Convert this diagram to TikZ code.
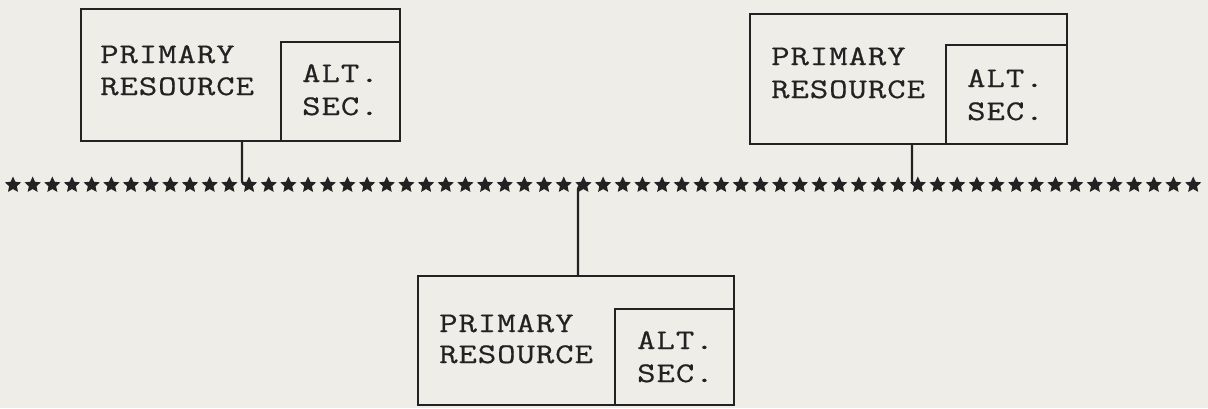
\documentclass[tikz,border=0pt]{standalone}
\usepackage{fontspec}
\usetikzlibrary{shapes.geometric}
\newfontfamily\tw[FakeStretch=1.25,LetterSpace=3.5,FakeBold=0.6]{Latin Modern Mono}
\definecolor{paper}{RGB}{238,237,231}
\definecolor{inkc}{RGB}{34,34,34}
\begin{document}
\begin{tikzpicture}[x=1pt,y=-1pt,
  ink/.style={line width=2.2pt, draw=inkc},
  resbox/.style={ink, rectangle, inner sep=0pt, anchor=north west},
  label/.style={font=\tw\fontsize{28.5}{32}\selectfont, text=inkc, anchor=base west, inner sep=0pt},
  asterisk/.style={star, star points=5, star point ratio=2.1, fill=inkc, minimum size=17pt, inner sep=0pt},
  link/.style={ink, rounded corners=4pt}]
  % page
  \fill[paper] (0,0) rectangle (1208,408);
  \useasboundingbox (0,0) rectangle (1208,408);

  % resource 1 (upper left)
  \node[resbox, minimum width=319pt, minimum height=132pt] (res1) at (80,8) {};
  \node[resbox, minimum width=119pt, minimum height=99pt, anchor=south east] (alt1) at (res1.south east) {};
  \node[label] (p1) at (100,63) {PRIMARY};
  \node[label] (r1) at (100,95) {RESOURCE};
  \node[label] (a1) at (302,82) {ALT.};
  \node[label] (c1) at (302,115) {SEC.};

  % resource 2 (upper right)
  \node[resbox, minimum width=317pt, minimum height=130pt] (res2) at (749,13) {};
  \node[resbox, minimum width=121pt, minimum height=99pt, anchor=south east] (alt2) at (res2.south east) {};
  \node[label] (p2) at (771,65) {PRIMARY};
  \node[label] (r2) at (771,98) {RESOURCE};
  \node[label] (a2) at (967,87) {ALT.};
  \node[label] (c2) at (967,120) {SEC.};

  % resource 3 (lower middle)
  \node[resbox, minimum width=316pt, minimum height=129pt] (res3) at (417,275) {};
  \node[resbox, minimum width=119pt, minimum height=96pt, anchor=south east] (alt3) at (res3.south east) {};
  \node[label] (p3) at (439,332) {PRIMARY};
  \node[label] (r3) at (439,363) {RESOURCE};
  \node[label] (a3) at (637,349) {ALT.};
  \node[label] (c3) at (637,382) {SEC.};

  % drop lines onto the bus
  \coordinate (d1) at (242,0);
  \coordinate (d2) at (912,0);
  \coordinate (d3) at (578,0);
  \foreach \k in {0,...,60} {
    \coordinate (s\k) at ({13+\k*19.67},185);
  }
  \draw[link] (res1.south -| d1) |- (s12);
  \draw[link] (res2.south -| d2) |- (s46);
  \draw[link] (res3.north -| d3) |- (s29);

  % the bus: a typed row of asterisks
  \foreach \k in {0,...,60} {
    \node[asterisk] (b\k) at (s\k) {};
  }
\end{tikzpicture}
\end{document}
